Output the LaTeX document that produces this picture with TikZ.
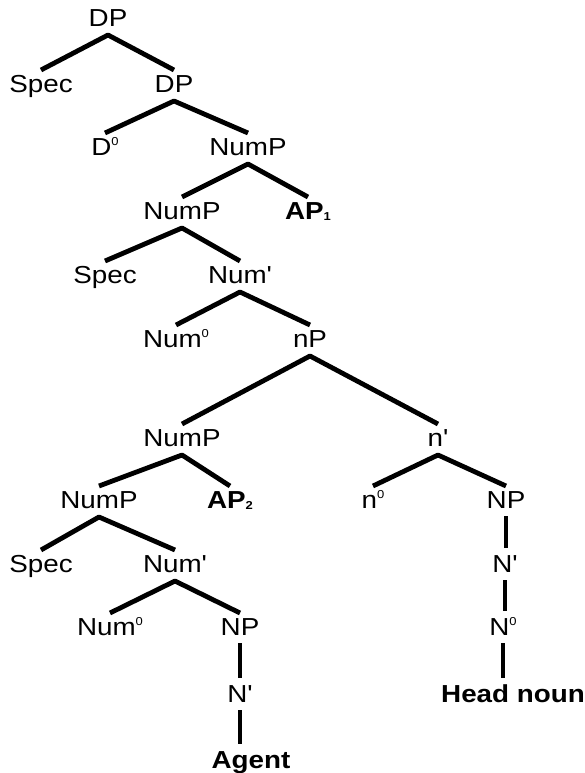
\documentclass[tikz,border=0pt]{standalone}
\usepackage{fontspec}
\setmainfont{Liberation Sans}[Ligatures=TeXOff, FakeStretch=1.13]
\usetikzlibrary{calc}
% small raised / lowered indices
\newcommand\supz[1]{\raisebox{0.40em}{\fontsize{11.5}{11.5}\selectfont #1}}
\newcommand\subz[1]{\raisebox{-0.02em}{\fontsize{11.5}{11.5}\selectfont #1}}
% a binary branching: left child, apex under the parent, right child
\newcommand\br[3]{\draw[branch] ($(#2.north)+(0,-5)$) -- ($(#1.south)+(0,8)$) -- ($(#3.north)+(0,-5)$);}
% a straight vertical branch
\newcommand\vbr[2]{\draw[branch] ($(#1.south)+(0,7)$) -- ($(#1.south |- #2.north)+(0,-7)$);}
\begin{document}
\begin{tikzpicture}[x=1pt,y=-1pt,
  lab/.style={inner sep=0pt, text height=17.6pt, text depth=0pt,
              font=\fontsize{24.6}{28}\selectfont},
  branch/.style={line width=4.8pt, black, line join=round}]
\path[use as bounding box] (0,0) rectangle (584,773);
\tikzset{every node/.style={lab}}
% labels
\node (dp0)   at (108,18)  {DP};
\node (spec1) at (41,84)   {Spec};
\node (dp1)   at (174,84)  {DP};
\node (d0)    at (105,147) {D\supz{0}};
\node (nump1) at (248,147) {NumP};
\node (nump2) at (182,211) {NumP};
\node (ap1)   at (308,211) {\bfseries AP\subz{1}};
\node (spec2) at (105,275) {Spec};
\node (numb1) at (240,275) {Num'};
\node (num0a) at (176,339) {Num\supz{0}};
\node (np0)   at (310,339) {nP};
\node (nump3) at (182,438) {NumP};
\node (nb)    at (438,438) {n'};
\node (nump4) at (99,500)  {NumP};
\node (ap2)   at (230,500) {\bfseries AP\subz{2}};
\node (n0)    at (373,500) {n\supz{0}};
\node (npr)   at (506,500) {NP};
\node (spec3) at (41,564)  {Spec};
\node (numb2) at (175,564) {Num'};
\node (nbar1) at (505,564) {N'};
\node (num0b) at (110,627) {Num\supz{0}};
\node (np1)   at (240,627) {NP};
\node (nzero) at (503,627) {N\supz{0}};
\node (nbar2) at (240,694) {N'};
\node (head)  at (513,694) {\bfseries Head noun};
\node (agent) at (251,760) {\bfseries Agent};
% branches
\br{dp0}{spec1}{dp1}
\br{dp1}{d0}{nump1}
\br{nump1}{nump2}{ap1}
\br{nump2}{spec2}{numb1}
\br{numb1}{num0a}{np0}
\br{np0}{nump3}{nb}
\br{nump3}{nump4}{ap2}
\br{nb}{n0}{npr}
\br{nump4}{spec3}{numb2}
\br{numb2}{num0b}{np1}
\vbr{npr}{nbar1}  \vbr{nbar1}{nzero} \vbr{nzero}{head}
\vbr{np1}{nbar2}  \vbr{nbar2}{agent}
\end{tikzpicture}
\end{document}
